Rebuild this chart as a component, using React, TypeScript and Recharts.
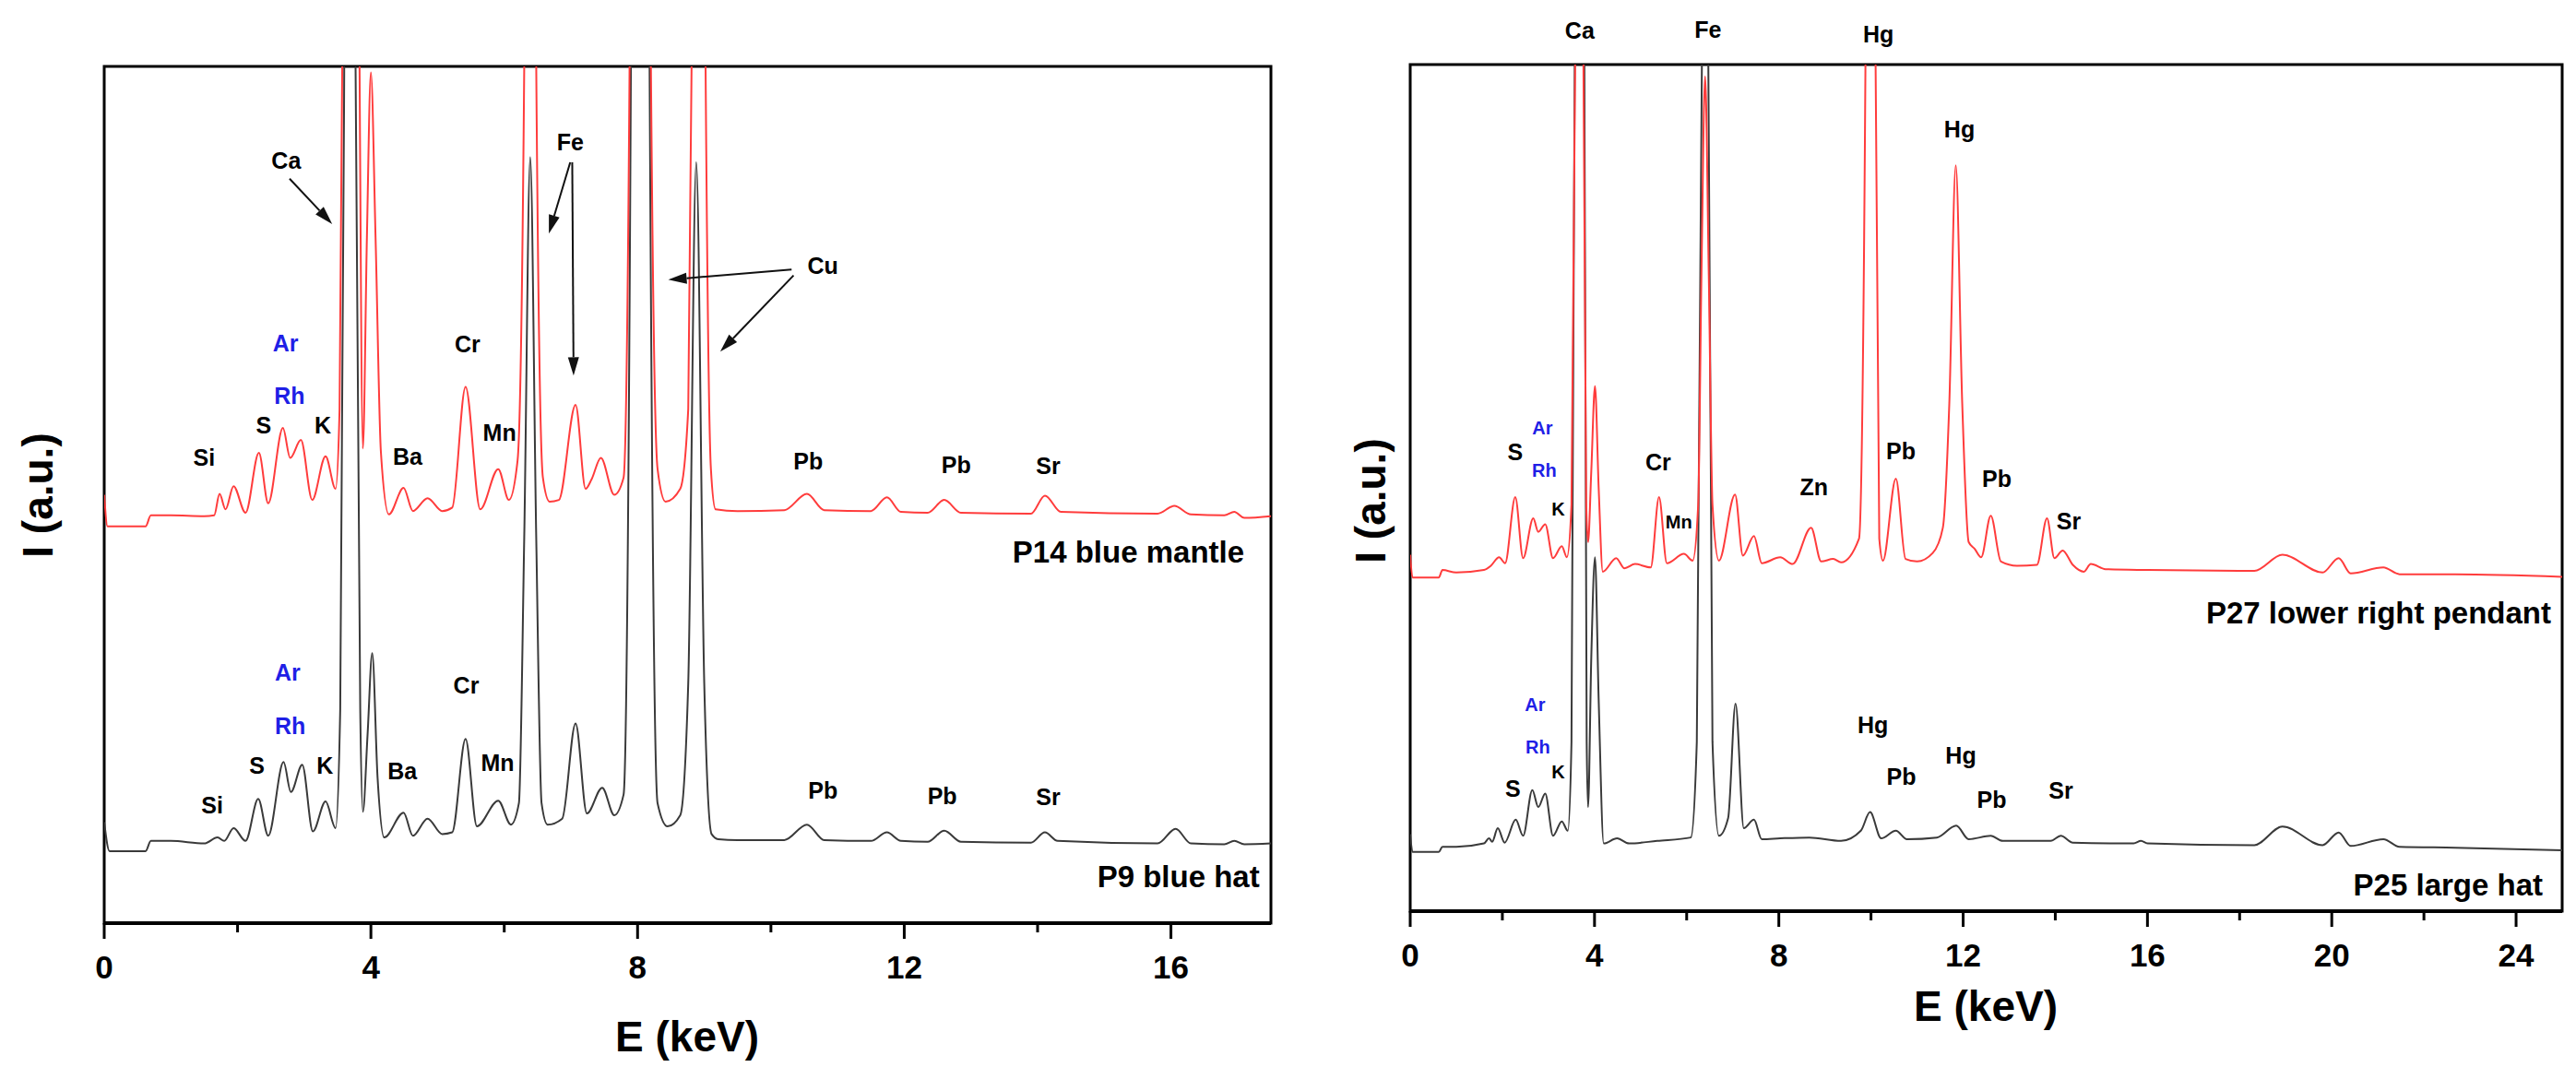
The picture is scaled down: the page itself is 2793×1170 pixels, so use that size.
import React from "react";
import {
  LineChart,
  Line,
  XAxis,
  YAxis,
  ReferenceArea,
  ReferenceDot,
  ReferenceLine,
} from "recharts";

const FONT = '"Liberation Sans", Arial, Helvetica, sans-serif';

// spectra: [energy keV, intensity a.u. (0..100 = plot height)]
type Pt = [number, number];

const p14BlueMantle: Pt[] = [
  [0, 50.0], [0.05, 46.3], [0.62, 46.3], [0.7, 47.6], [1.0, 47.6], [1.5, 47.5],
  [1.65, 47.6], [1.73, 50.1], [1.82, 48.3], [1.94, 51.0], [2.12, 47.9], [2.32, 54.9],
  [2.46, 49.0], [2.68, 57.8], [2.79, 54.3], [2.95, 56.4], [3.12, 49.4], [3.32, 54.5],
  [3.47, 50.7], [3.53, 60], [3.57, 100], [3.69, 400], [3.83, 100], [3.88, 55.4],
  [3.94, 80], [4.0, 99.3], [4.07, 80], [4.15, 55], [4.27, 47.7], [4.49, 50.8],
  [4.63, 48.1], [4.85, 49.6], [5.07, 48.1], [5.22, 48.5], [5.42, 62.6], [5.64, 48.3],
  [5.91, 53.0], [6.07, 49.4], [6.2, 54], [6.3, 100], [6.4, 400], [6.48, 100],
  [6.58, 52], [6.68, 49.2], [6.82, 49.4], [7.07, 60.5], [7.22, 50.7], [7.31, 51.8],
  [7.45, 54.3], [7.65, 50.0], [7.79, 52], [7.88, 100], [8.04, 600], [8.2, 100],
  [8.3, 53], [8.42, 49.2], [8.64, 50.7], [8.76, 60], [8.81, 100], [8.9, 300],
  [9.02, 100], [9.1, 53], [9.17, 48.3], [9.5, 48.1], [10.2, 48.2], [10.54, 50.1],
  [10.8, 48.2], [11.5, 48.1], [11.74, 49.7], [11.95, 48.0], [12.35, 47.9], [12.6, 49.4],
  [12.85, 47.9], [13.9, 47.8], [14.11, 49.9], [14.35, 48.0], [15.8, 47.8], [16.05, 48.7],
  [16.3, 47.7], [16.8, 47.6], [16.95, 48.0], [17.1, 47.3], [17.5, 47.5],
];

const p9BlueHat: Pt[] = [
  [0, 11.8], [0.08, 8.4], [0.62, 8.4], [0.7, 9.6], [1.0, 9.6], [1.5, 9.3],
  [1.7, 10.0], [1.8, 9.6], [1.94, 11.1], [2.12, 9.6], [2.31, 14.5], [2.46, 10.2],
  [2.69, 18.8], [2.8, 15.3], [2.97, 18.5], [3.13, 10.7], [3.32, 14.2], [3.47, 11.1],
  [3.54, 25], [3.6, 100], [3.69, 300], [3.77, 100], [3.84, 25], [3.88, 13.0],
  [3.95, 22], [4.02, 31.5], [4.1, 17], [4.2, 10.0], [4.49, 12.9], [4.63, 10.2],
  [4.85, 12.2], [5.07, 10.4], [5.22, 10.6], [5.42, 21.5], [5.59, 11.3], [5.91, 14.3],
  [6.1, 11.5], [6.22, 14], [6.3, 45], [6.39, 89.4], [6.48, 45], [6.56, 14],
  [6.65, 11.5], [6.87, 12.2], [7.07, 23.3], [7.24, 12.8], [7.47, 15.8], [7.65, 12.6],
  [7.79, 15], [7.9, 100], [8.04, 500], [8.18, 100], [8.3, 14], [8.45, 11.3],
  [8.64, 12.6], [8.76, 28], [8.88, 88.8], [9.0, 28], [9.11, 10.4], [9.21, 9.8],
  [9.5, 9.7], [10.2, 9.7], [10.54, 11.5], [10.8, 9.7], [11.5, 9.6], [11.74, 10.6],
  [11.95, 9.6], [12.35, 9.5], [12.6, 10.8], [12.85, 9.5], [13.9, 9.4], [14.11, 10.6],
  [14.3, 9.6], [15.8, 9.3], [16.07, 11.0], [16.3, 9.3], [16.8, 9.2], [16.95, 9.6],
  [17.1, 9.2], [17.5, 9.3],
];

const p27LowerRightPendant: Pt[] = [
  [0, 42.1], [0.05, 39.4], [0.62, 39.4], [0.7, 40.3], [1.0, 40.0], [1.6, 40.3],
  [1.75, 40.8], [1.93, 41.8], [2.06, 41.1], [2.28, 48.9], [2.45, 41.7], [2.67, 46.4],
  [2.78, 44.8], [2.93, 45.7], [3.1, 41.7], [3.29, 43.1], [3.4, 41.8], [3.5, 48],
  [3.58, 100], [3.68, 400], [3.76, 100], [3.82, 48], [3.86, 43.6], [3.93, 52],
  [4.01, 62.0], [4.09, 50], [4.18, 40.1], [4.47, 41.7], [4.65, 40.5], [4.88, 41.0],
  [5.22, 40.6], [5.4, 48.9], [5.57, 41.1], [5.94, 42.2], [6.13, 41.4], [6.25, 48],
  [6.32, 75], [6.4, 98.6], [6.48, 75], [6.56, 48], [6.7, 41.4], [7.05, 49.2],
  [7.22, 42.0], [7.46, 44.3], [7.63, 41.1], [8.03, 41.8], [8.3, 41.0], [8.7, 45.3],
  [8.92, 41.3], [9.18, 41.6], [9.35, 41.2], [9.74, 44], [9.88, 100], [10.0, 350],
  [10.1, 100], [10.18, 44], [10.26, 41.4], [10.54, 51.1], [10.75, 41.6], [11.0, 41.3],
  [11.34, 42.3], [11.56, 45.3], [11.7, 60], [11.84, 88.1], [11.98, 60], [12.12, 43.6],
  [12.25, 42.8], [12.39, 41.8], [12.6, 46.7], [12.82, 41.3], [13.17, 40.8], [13.6, 40.9],
  [13.82, 46.4], [13.98, 41.7], [14.16, 42.6], [14.38, 40.9], [14.62, 40.1], [14.77, 41.0],
  [15.09, 40.4], [16.0, 40.3], [18.32, 40.2], [18.93, 42.1], [19.8, 40.0], [20.15, 41.7],
  [20.41, 39.9], [21.12, 40.6], [21.47, 39.8], [22.68, 39.8], [25, 39.5],
];

const p25LargeHat: Pt[] = [
  [0, 9.1], [0.05, 7.0], [0.62, 7.0], [0.7, 7.6], [1.0, 7.6], [1.6, 8.0],
  [1.71, 8.6], [1.78, 8.2], [1.9, 9.8], [2.05, 8.1], [2.29, 10.8], [2.45, 8.9],
  [2.65, 14.3], [2.78, 12.3], [2.93, 13.9], [3.1, 8.9], [3.29, 10.6], [3.42, 9.5],
  [3.5, 20], [3.57, 100], [3.68, 400], [3.78, 100], [3.83, 20], [3.86, 12.3],
  [3.93, 30], [4.01, 41.8], [4.09, 25], [4.2, 8.0], [4.49, 8.6], [4.75, 8.0],
  [5.36, 8.3], [6.09, 8.7], [6.22, 20], [6.33, 100], [6.4, 300], [6.47, 100],
  [6.56, 20], [6.7, 8.9], [6.9, 11], [7.06, 24.5], [7.24, 9.8], [7.46, 10.8],
  [7.63, 8.5], [8.03, 8.6], [8.66, 8.7], [9.35, 8.3], [9.78, 9.5], [9.98, 11.7],
  [10.22, 8.6], [10.54, 9.5], [10.78, 8.5], [11.43, 8.7], [11.85, 10.1], [12.12, 8.5],
  [12.6, 8.9], [12.86, 8.3], [13.9, 8.3], [14.12, 8.9], [14.38, 8.1], [15.7, 8.0],
  [15.86, 8.3], [16.0, 8.0], [18.32, 7.8], [18.93, 10.0], [19.8, 7.8], [20.15, 9.3],
  [20.41, 7.7], [21.12, 8.5], [21.47, 7.6], [22.68, 7.5], [25, 7.2],
];

const leftTicks = [0, 2, 4, 6, 8, 10, 12, 14, 16];
const rightTicks = [0, 2, 4, 6, 8, 10, 12, 14, 16, 18, 20, 22, 24];

// peak labels: [energy, intensity, text, kind]  kind: k=black, b=blue, ks/bs=small, n=sample name
type Note = [number, number, string, string];

const leftNotes: Note[] = [
  [2.73, 89.0, "Ca", "k"], [6.99, 91.2, "Fe", "k"], [10.78, 76.7, "Cu", "k"],
  [2.72, 67.7, "Ar", "b"], [2.78, 61.5, "Rh", "b"], [2.39, 58.1, "S", "k"],
  [3.28, 58.1, "K", "k"], [1.5, 54.3, "Si", "k"], [4.55, 54.4, "Ba", "k"],
  [5.45, 67.6, "Cr", "k"], [5.93, 57.2, "Mn", "k"], [10.56, 53.9, "Pb", "k"],
  [12.78, 53.5, "Pb", "k"], [14.16, 53.4, "Sr", "k"],
  [2.75, 29.3, "Ar", "b"], [2.79, 23.0, "Rh", "b"], [2.29, 18.4, "S", "k"],
  [3.31, 18.4, "K", "k"], [1.62, 13.7, "Si", "k"], [4.47, 17.7, "Ba", "k"],
  [5.43, 27.7, "Cr", "k"], [5.9, 18.7, "Mn", "k"], [10.78, 15.5, "Pb", "k"],
  [12.57, 14.8, "Pb", "k"], [14.16, 14.7, "Sr", "k"],
  [17.1, 43.3, "P14 blue mantle", "n"], [17.33, 5.4, "P9 blue hat", "n"],
];

const rightNotes: Note[] = [
  [3.68, 104.0, "Ca", "k"], [6.46, 104.1, "Fe", "k"], [10.16, 103.6, "Hg", "k"],
  [11.92, 92.4, "Hg", "k"], [2.28, 54.2, "S", "k"], [2.87, 57.1, "Ar", "bs"],
  [2.91, 52.1, "Rh", "bs"], [3.21, 47.5, "K", "ks"], [5.38, 53.0, "Cr", "k"],
  [5.83, 46.0, "Mn", "ks"], [8.76, 50.1, "Zn", "k"], [10.65, 54.3, "Pb", "k"],
  [12.73, 51.1, "Pb", "k"], [14.29, 46.1, "Sr", "k"],
  [2.71, 24.4, "Ar", "bs"], [2.77, 19.4, "Rh", "bs"], [3.21, 16.5, "K", "ks"],
  [2.23, 14.5, "S", "k"], [10.04, 22.0, "Hg", "k"], [10.66, 15.9, "Pb", "k"],
  [11.95, 18.4, "Hg", "k"], [12.62, 13.1, "Pb", "k"], [14.12, 14.2, "Sr", "k"],
  [24.76, 35.2, "P27 lower right pendant", "n"], [24.58, 3.1, "P25 large hat", "n"],
];

// arrows: [fromE, fromI, toE, toI]
const leftArrows: [number, number, number, number][] = [
  [2.78, 86.9, 3.42, 81.6],
  [6.99, 88.8, 6.67, 80.5],
  [7.02, 88.8, 7.04, 63.9],
  [10.31, 76.3, 8.46, 75.1],
  [10.34, 75.6, 9.24, 66.7],
];

const rows = (pts: Pt[]) => pts.map(([e, i]) => ({ e, i }));

const EnergyTick = (props: any) => {
  const { x, y, payload } = props;
  const major = payload.value % 4 === 0;
  return (
    <g>
      <line x1={x} y1={y} x2={x} y2={y + (major ? 17 : 10)} stroke="#000" strokeWidth={3} />
      {major && (
        <text x={x} y={y + 60} textAnchor="middle" fontSize={35} fontWeight="bold" fontFamily={FONT} fill="#000">
          {payload.value}
        </text>
      )}
    </g>
  );
};

const Arrow = (props: any) => {
  const { x1, y1, x2, y2 } = props;
  const ang = Math.atan2(y2 - y1, x2 - x1);
  const len = 20;
  const half = 6;
  const bx = x2 - len * Math.cos(ang);
  const by = y2 - len * Math.sin(ang);
  const px = -Math.sin(ang) * half;
  const py = Math.cos(ang) * half;
  return (
    <g>
      <line x1={x1} y1={y1} x2={bx} y2={by} stroke="#111" strokeWidth={2} />
      <polygon points={`${x2},${y2} ${bx + px},${by + py} ${bx - px},${by - py}`} fill="#111" />
    </g>
  );
};

const noteStyle = (kind: string) => {
  if (kind === "n") return { size: 33, fill: "#000", anchor: "end" };
  if (kind === "b") return { size: 25, fill: "#1f1fe6", anchor: "middle" };
  if (kind === "bs") return { size: 20, fill: "#1f1fe6", anchor: "middle" };
  if (kind === "ks") return { size: 20, fill: "#000", anchor: "middle" };
  return { size: 25, fill: "#000", anchor: "middle" };
};

type PanelProps = {
  left: number;
  width: number;
  plotLeft: number;
  top: number;
  bottom: number;
  right: number;
  xMax: number;
  ticks: number[];
  black: Pt[];
  red: Pt[];
  notes: Note[];
  arrows: [number, number, number, number][];
  yTitle: [number, number];
  xTitle: [number, number];
};

const Panel = (p: PanelProps) => (
  <div style={{ position: "absolute", left: p.left, top: 0 }}>
    <LineChart
      width={p.width}
      height={1170}
      margin={{ top: p.top, right: p.right, bottom: 1170 - p.bottom - 60, left: 0 }}
    >
      <XAxis
        type="number"
        dataKey="e"
        domain={[0, p.xMax]}
        allowDataOverflow
        ticks={p.ticks}
        interval={0}
        height={60}
        tickSize={0}
        tickMargin={0}
        tickLine={false}
        axisLine={{ stroke: "#000", strokeWidth: 4 }}
        tick={EnergyTick}
        label={() => (
          <text x={p.xTitle[0]} y={p.xTitle[1]} dy="0.35em" textAnchor="middle" fontSize={46} fontWeight="bold" fontFamily={FONT} fill="#000">
            E (keV)
          </text>
        )}
      />
      <YAxis
        type="number"
        domain={[0, 100]}
        allowDataOverflow
        width={p.plotLeft}
        axisLine={false}
        tickLine={false}
        tick={false}
        label={() => (
          <text
            x={p.yTitle[0]}
            y={p.yTitle[1]}
            dy="0.35em"
            transform={`rotate(-90 ${p.yTitle[0]} ${p.yTitle[1]})`}
            textAnchor="middle"
            fontSize={46}
            fontWeight="bold"
            fontFamily={FONT}
            fill="#000"
          >
            I (a.u.)
          </text>
        )}
      />
      <ReferenceArea x1={0} x2={p.xMax} y1={0} y2={100} fill="none" stroke="#000" strokeWidth={3} ifOverflow="visible" />
      <Line
        data={rows(p.black)}
        dataKey="i"
        type="monotone"
        stroke="#3a3a3a"
        strokeWidth={2}
        dot={false}
        activeDot={false}
        isAnimationActive={false}
      />
      <Line
        data={rows(p.red)}
        dataKey="i"
        type="monotone"
        stroke="#ff3c3c"
        strokeWidth={2}
        dot={false}
        activeDot={false}
        isAnimationActive={false}
      />
      {p.arrows.map(([a, b, c, d], k) => (
        <ReferenceLine
          key={"a" + k}
          segment={[{ x: a, y: b }, { x: c, y: d }]}
          ifOverflow="visible"
          shape={Arrow}
        />
      ))}
      {p.notes.map(([e, i, text, kind], k) => {
        const s = noteStyle(kind);
        return (
          <ReferenceDot
            key={"n" + k}
            x={e}
            y={i}
            r={0}
            ifOverflow="visible"
            shape={(d: any) => (
              <text
                x={d.cx}
                y={d.cy}
                dy="0.35em"
                textAnchor={s.anchor}
                fontSize={s.size}
                fontWeight="bold"
                fontFamily={FONT}
                fill={s.fill}
              >
                {text}
              </text>
            )}
          />
        );
      })}
    </LineChart>
  </div>
);

export default function App() {
  return (
    <div style={{ position: "absolute", left: 0, top: 0, width: 2793, height: 1170, background: "#fff" }}>
      <Panel
        left={0}
        width={1420}
        plotLeft={113}
        top={72}
        bottom={1001}
        right={42}
        xMax={17.5}
        ticks={leftTicks}
        black={p9BlueHat}
        red={p14BlueMantle}
        notes={leftNotes}
        arrows={leftArrows}
        yTitle={[41, 537]}
        xTitle={[745, 1124]}
      />
      <Panel
        left={1420}
        width={1373}
        plotLeft={109}
        top={70}
        bottom={988}
        right={15}
        xMax={25}
        ticks={rightTicks}
        black={p25LargeHat}
        red={p27LowerRightPendant}
        notes={rightNotes}
        arrows={[]}
        yTitle={[66, 543]}
        xTitle={[733, 1091]}
      />
    </div>
  );
}
